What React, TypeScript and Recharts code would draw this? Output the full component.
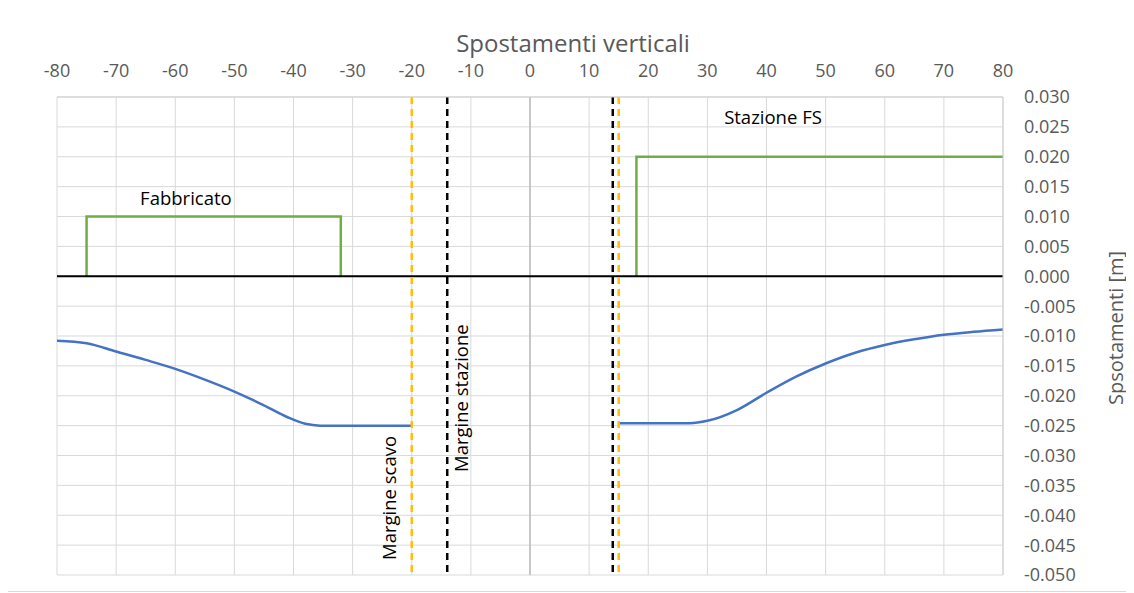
import React from 'react';
import {
  ComposedChart,
  Line,
  XAxis,
  YAxis,
  CartesianGrid,
  ReferenceLine,
  ReferenceDot,
  Label,
} from 'recharts';

// ---- data ----
const xTicks = [-80, -70, -60, -50, -40, -30, -20, -10, 0, 10, 20, 30, 40, 50, 60, 70, 80];
const xMinorTicks = [
  -80, -75, -70, -65, -60, -55, -50, -45, -40, -35, -30, -25, -20, -15, -10, -5, 0,
  5, 10, 15, 20, 25, 30, 35, 40, 45, 50, 55, 60, 65, 70, 75, 80,
];
const yTicks = [
  0.03, 0.025, 0.02, 0.015, 0.01, 0.005, 0, -0.005, -0.01, -0.015, -0.02, -0.025,
  -0.03, -0.035, -0.04, -0.045, -0.05,
];

const leftSettlement = [
  { x: -80, y: -0.0108 },
  { x: -75, y: -0.0112 },
  { x: -70, y: -0.0126 },
  { x: -65, y: -0.014 },
  { x: -60, y: -0.0155 },
  { x: -55, y: -0.0173 },
  { x: -50, y: -0.0193 },
  { x: -45, y: -0.0216 },
  { x: -41, y: -0.0236 },
  { x: -38, y: -0.0247 },
  { x: -35.5, y: -0.025 },
  { x: -20, y: -0.025 },
];

const rightSettlement = [
  { x: 15, y: -0.0246 },
  { x: 20, y: -0.0246 },
  { x: 27, y: -0.0246 },
  { x: 30, y: -0.0242 },
  { x: 35, y: -0.0224 },
  { x: 40, y: -0.0195 },
  { x: 45, y: -0.0168 },
  { x: 50, y: -0.0146 },
  { x: 55, y: -0.0128 },
  { x: 60, y: -0.0115 },
  { x: 65, y: -0.01056 },
  { x: 70, y: -0.0098 },
  { x: 75, y: -0.0093 },
  { x: 80, y: -0.0089 },
];

const fabbricato = [
  { x: -75, y: 0 },
  { x: -75, y: 0.01 },
  { x: -32, y: 0.01 },
  { x: -32, y: 0 },
];

const stazioneFS = [
  { x: 18, y: 0 },
  { x: 18, y: 0.02 },
  { x: 80, y: 0.02 },
];

const excavationEdges = [-20, 15];
const stationEdges = [-14, 14];

const annotations = [
  { x: -58.2, y: 0.0132, text: 'Fabbricato' },
  { x: 41.1, y: 0.0267, text: 'Stazione FS' },
];

const verticalNotes = [
  { x: -24, y: -0.0371, text: 'Margine scavo' },
  { x: -11.7, y: -0.0204, text: 'Margine stazione' },
];

const FONT = '"Open Sans", "Liberation Sans", sans-serif';
const AXIS_TEXT = '#595959';
const GRID = '#d9d9d9';

const TitleLabel = (props: any) => {
  const vb = props.viewBox || { x: 0, y: 0, width: 0, height: 0 };
  return (
    <text
      x={vb.x + vb.width / 2 + 43}
      y={vb.y - 5}
      textAnchor="middle"
      fontFamily={FONT}
      fontSize={24}
      fill={AXIS_TEXT}
    >
      Spostamenti verticali
    </text>
  );
};

const YTitleLabel = (props: any) => {
  const vb = props.viewBox || { x: 0, y: 0, width: 0, height: 0 };
  const cx = vb.x + 112;
  const cy = vb.y + vb.height / 2 - 8;
  return (
    <text
      x={cx}
      y={cy}
      transform={`rotate(-90 ${cx} ${cy})`}
      textAnchor="middle"
      dominantBaseline="central"
      fontFamily={FONT}
      fontSize={20}
      fill={AXIS_TEXT}
    >
      Spsotamenti [m]
    </text>
  );
};

export default function App() {
  return (
    <div
      style={{
        width: 1122,
        height: 585,
        border: '1px solid #d9d9d9',
        boxSizing: 'border-box',
        margin: '-1px 0 0 -1px',
        background: '#fff',
      }}
    >
      <ComposedChart
        width={1120}
        height={583}
        margin={{ top: 49, right: 45, bottom: 16, left: 49 }}
      >
        <CartesianGrid stroke={GRID} strokeWidth={1} />
        <XAxis
          xAxisId="minor"
          type="number"
          dataKey="x"
          orientation="top"
          domain={[-80, 80]}
          ticks={xMinorTicks}
          height={0}
          tickFormatter={() => ''}
          tickSize={4}
          tickLine={{ stroke: '#c8c8c8' }}
          axisLine={false}
          allowDataOverflow
        />
        <XAxis
          type="number"
          dataKey="x"
          orientation="top"
          domain={[-80, 80]}
          ticks={xTicks}
          height={40}
          tickSize={0}
          tickMargin={20}
          tickLine={false}
          axisLine={{ stroke: '#cfcfcf' }}
          tick={{ fontFamily: FONT, fontSize: 18, fill: AXIS_TEXT }}
          allowDataOverflow
          label={<Label content={TitleLabel} />}
        />
        <YAxis
          type="number"
          orientation="right"
          domain={[-0.05, 0.03]}
          ticks={yTicks}
          width={80}
          tickSize={0}
          tickMargin={21}
          tickLine={false}
          axisLine={{ stroke: '#cfcfcf' }}
          tick={{ fontFamily: FONT, fontSize: 18, fill: AXIS_TEXT, textAnchor: 'start' }}
          tickFormatter={(v: number) => v.toFixed(3)}
          allowDataOverflow
          label={<Label content={YTitleLabel} />}
        />

        <ReferenceLine x={0} stroke="#bdbdbd" strokeWidth={1.5} />

        <Line
          data={fabbricato}
          dataKey="y"
          type="linear"
          stroke="#70AD47"
          strokeWidth={2.5}
          dot={false}
          activeDot={false}
          isAnimationActive={false}
        />
        <Line
          data={stazioneFS}
          dataKey="y"
          type="linear"
          stroke="#70AD47"
          strokeWidth={2.5}
          dot={false}
          activeDot={false}
          isAnimationActive={false}
        />
        <Line
          data={leftSettlement}
          dataKey="y"
          type="monotone"
          stroke="#4472C4"
          strokeWidth={2.5}
          dot={false}
          activeDot={false}
          isAnimationActive={false}
        />
        <Line
          data={rightSettlement}
          dataKey="y"
          type="monotone"
          stroke="#4472C4"
          strokeWidth={2.5}
          dot={false}
          activeDot={false}
          isAnimationActive={false}
        />

        <ReferenceLine y={0} stroke="#000" strokeWidth={2} />

        {excavationEdges.map((v) => (
          <ReferenceLine
            key={`e${v}`}
            x={v}
            stroke="#FFC000"
            strokeWidth={2.5}
            strokeDasharray="7 5"
          />
        ))}
        {stationEdges.map((v) => (
          <ReferenceLine
            key={`s${v}`}
            x={v}
            stroke="#000"
            strokeWidth={2.5}
            strokeDasharray="7 5"
          />
        ))}

        {annotations.map((a) => (
          <ReferenceDot
            key={a.text}
            x={a.x}
            y={a.y}
            r={0}
            shape={(p: any) => (
              <text
                x={p.cx}
                y={p.cy}
                textAnchor="middle"
                dominantBaseline="central"
                fontFamily={FONT}
                fontSize={18.5}
                fill="#000"
              >
                {a.text}
              </text>
            )}
          />
        ))}
        {verticalNotes.map((a) => (
          <ReferenceDot
            key={a.text}
            x={a.x}
            y={a.y}
            r={0}
            shape={(p: any) => (
              <text
                x={p.cx}
                y={p.cy}
                transform={`rotate(-90 ${p.cx} ${p.cy})`}
                textAnchor="middle"
                dominantBaseline="central"
                fontFamily={FONT}
                fontSize={18.5}
                fill="#000"
              >
                {a.text}
              </text>
            )}
          />
        ))}
      </ComposedChart>
    </div>
  );
}
